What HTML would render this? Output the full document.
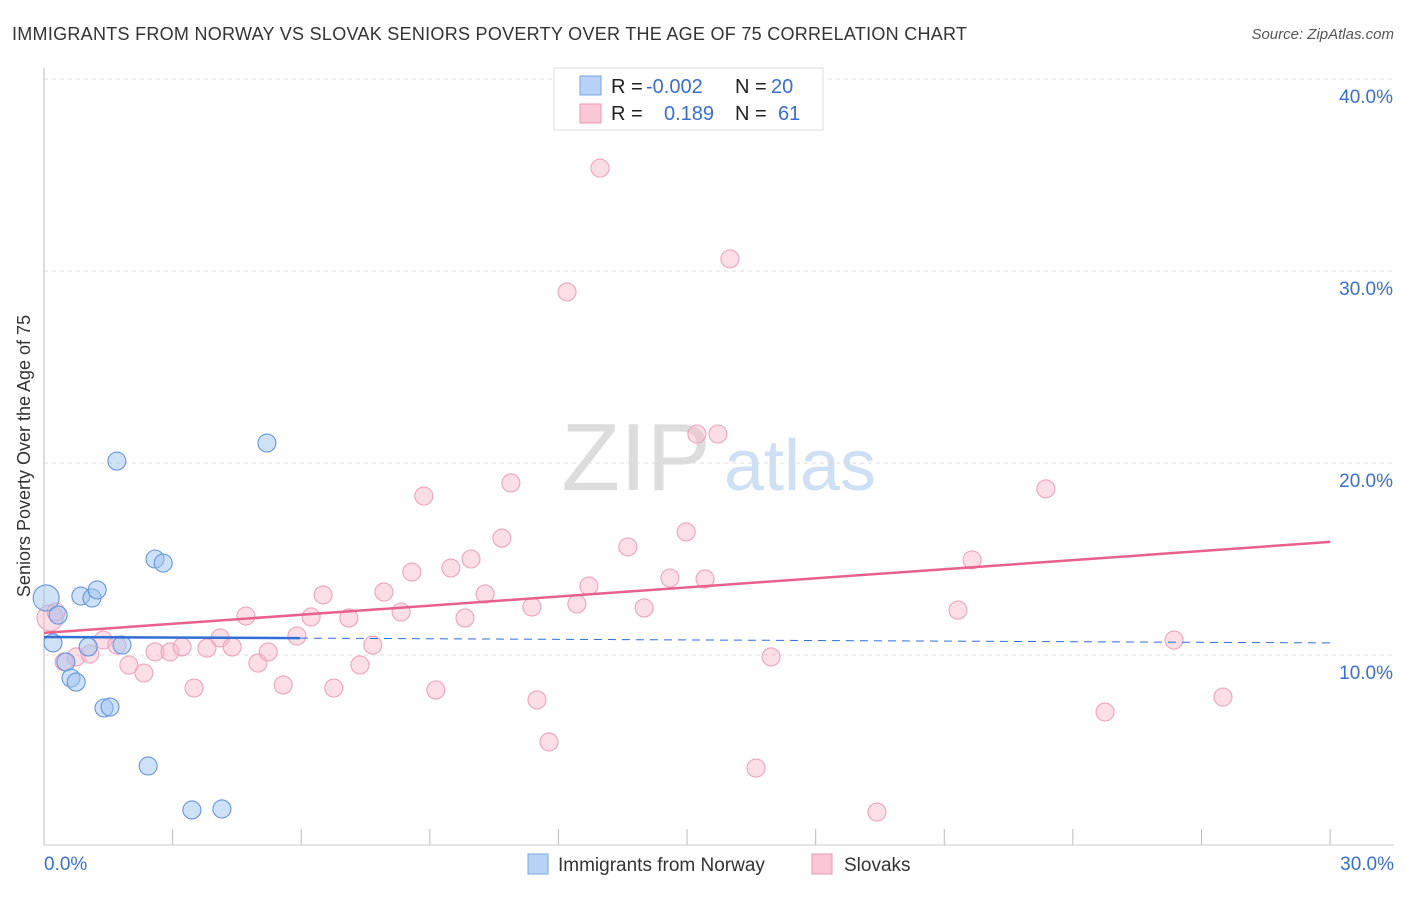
<!DOCTYPE html>
<html><head><meta charset="utf-8"><style>
body{margin:0;background:#fff;font-family:"Liberation Sans",sans-serif}
svg text{font-family:"Liberation Sans",sans-serif}
</style></head><body>
<svg id="c" width="1406" height="892">
<text x="12" y="40" font-size="18" fill="#333" textLength="955">IMMIGRANTS FROM NORWAY VS SLOVAK SENIORS POVERTY OVER THE AGE OF 75 CORRELATION CHART</text>
<text x="1394" y="39" font-size="15" fill="#555" font-style="italic" text-anchor="end">Source: ZipAtlas.com</text>
<text x="30" y="456" font-size="18" fill="#333" text-anchor="middle" transform="rotate(-90 30 456)">Seniors Poverty Over the Age of 75</text>
<g>
<text x="636" y="490" font-size="96" fill="#ddd" font-family="Liberation Serif" text-anchor="middle">ZIP</text>
<text x="800" y="490" font-size="72" fill="#cfe0f4" text-anchor="middle">atlas</text></g>
<g id="grid"></g><g id="pts"></g><g id="trend"></g>
<g>
<rect x="554" y="68" width="269" height="62" fill="#fff" stroke="#ddd"/>
<rect x="580" y="76" width="21" height="19" fill="#b8d3f5" stroke="#7aa6e0"/>
<rect x="580" y="104" width="21" height="19" fill="#f9c8d7" stroke="#ea9ab3"/>
<text x="611" y="93" font-size="20" fill="#222">R = <tspan fill="#3a6fd0" x="646">-0.002</tspan><tspan x="735">N = </tspan><tspan fill="#3a6fd0" x="771">20</tspan></text>
<text x="611" y="120" font-size="20" fill="#222">R = <tspan fill="#3a6fd0" x="664">0.189</tspan><tspan x="735">N = </tspan><tspan fill="#3a6fd0" x="778">61</tspan></text>
</g>
<g>
<rect x="528" y="854" width="20" height="20" fill="#b8d3f5" stroke="#7aa6e0"/>
<text x="558" y="871" font-size="19" fill="#333">Immigrants from Norway</text>
<rect x="812" y="854" width="20" height="20" fill="#f9c8d7" stroke="#ea9ab3"/>
<text x="844" y="871" font-size="19" fill="#333">Slovaks</text>
</g>
</svg>
<script>
const yTicks=[10,20,30,40];
const xTickLabels=["0.0%","30.0%"];
const blueX=[0.05,0.33,0.21,0.86,1.12,1.24,1.03,1.82,0.51,0.63,0.75,1.40,1.54,1.70,2.59,2.78,2.43,3.45,4.15,5.20];
const blueY=[12.97,12.08,10.63,13.07,12.97,13.39,10.42,10.52,9.64,8.80,8.59,7.24,7.29,20.10,15.00,14.79,4.22,1.93,1.98,21.04];
const pinkX=[0.14,0.28,0.47,0.75,1.07,1.38,1.70,1.98,2.33,2.59,2.94,3.22,3.50,3.80,4.11,4.39,4.71,4.99,5.23,5.58,5.90,6.23,6.51,6.76,7.11,7.37,7.67,7.93,8.33,8.58,8.86,9.14,9.49,9.82,9.96,10.29,10.68,10.89,11.38,11.50,11.78,12.20,12.43,12.71,12.97,13.62,14.00,14.60,14.98,15.23,15.42,15.72,16.00,16.61,16.96,19.43,21.32,21.65,23.37,24.75,26.36,27.50];
const pinkY=[11.93,12.24,9.64,9.90,10.05,10.78,10.52,9.48,9.06,10.16,10.16,10.42,8.28,10.36,10.89,10.42,12.03,9.58,10.16,8.44,10.99,11.98,13.13,8.28,11.93,9.48,10.52,13.28,12.24,14.32,18.28,8.18,14.53,11.93,15.00,13.18,16.09,18.96,12.50,7.66,5.47,28.91,12.66,13.59,35.36,15.63,12.45,14.01,16.41,21.51,13.96,21.51,30.63,4.11,9.90,1.82,12.34,14.95,18.65,7.03,10.78,7.81];
const blueTrend=[10.94,10.63], blueSolidEnd=5.97;
const pinkTrend=[11.15,15.89];
const X=v=>44+v*42.87, Y=v=>847-v*19.2;
const NS="http://www.w3.org/2000/svg";
function mk(t,a,p){const e=document.createElementNS(NS,t);for(const k in a)e.setAttribute(k,a[k]);p.appendChild(e);return e;}
const g=document.getElementById('grid');
const ax=mk('line',{x1:44,y1:68,x2:44,y2:845,stroke:'#bbb'},g);


const bx=mk('line',{x1:44,y1:845,x2:1394,y2:845,stroke:'#ccc'},g);


yTicks.forEach(t=>{
 const l=mk('line',{x1:44,x2:1394,y1:Y(t),y2:Y(t),stroke:'#ddd','stroke-dasharray':'4,4'},g);
 
 
 const tx=mk('text',{x:1393,y:Y(t)+24,'font-size':19,fill:'#3a6fd0','text-anchor':'end'},g);
 tx.textContent=t.toFixed(1)+'%';
 
 
});
for(let i=0;i<=10;i++){const t=mk('line',{x1:X(i*3),x2:X(i*3),y1:829,y2:845,stroke:'#bbb'},g);
 
 }
const t0=mk('text',{x:44,y:870,'font-size':19,fill:'#3a6fd0'},g);t0.textContent=xTickLabels[0];


const t1=mk('text',{x:1394,y:870,'font-size':19,fill:'#3a6fd0','text-anchor':'end'},g);t1.textContent=xTickLabels[1];


const P=document.getElementById('pts');
pinkX.forEach((x,i)=>{const c=mk('circle',{cx:X(x),cy:Y(pinkY[i]),r:i==0?13:9,fill:'rgba(248,182,202,0.45)',stroke:'#eda3bb','stroke-width':1.1},P);
 
 });
blueX.forEach((x,i)=>{const c=mk('circle',{cx:X(x),cy:Y(blueY[i]),r:i==0?13:9,fill:'rgba(160,196,240,0.5)',stroke:'#6596da','stroke-width':1.1},P);
 
 });
const T=document.getElementById('trend');
const bv=x=>blueTrend[0]+(blueTrend[1]-blueTrend[0])*x/30;
const l1=mk('line',{x1:X(0),y1:Y(bv(0)),x2:X(blueSolidEnd),y2:Y(bv(blueSolidEnd)),stroke:'#2f6fd6','stroke-width':2.5},T);


const l2=mk('line',{x1:X(blueSolidEnd),y1:Y(bv(blueSolidEnd)),x2:X(30),y2:Y(bv(30)),stroke:'#2f6fd6','stroke-width':1,'stroke-dasharray':'8,6'},T);


const l3=mk('line',{x1:X(0),y1:Y(pinkTrend[0]),x2:X(30),y2:Y(pinkTrend[1]),stroke:'#e8608c','stroke-width':2.5},T);


</script>
</body></html>
